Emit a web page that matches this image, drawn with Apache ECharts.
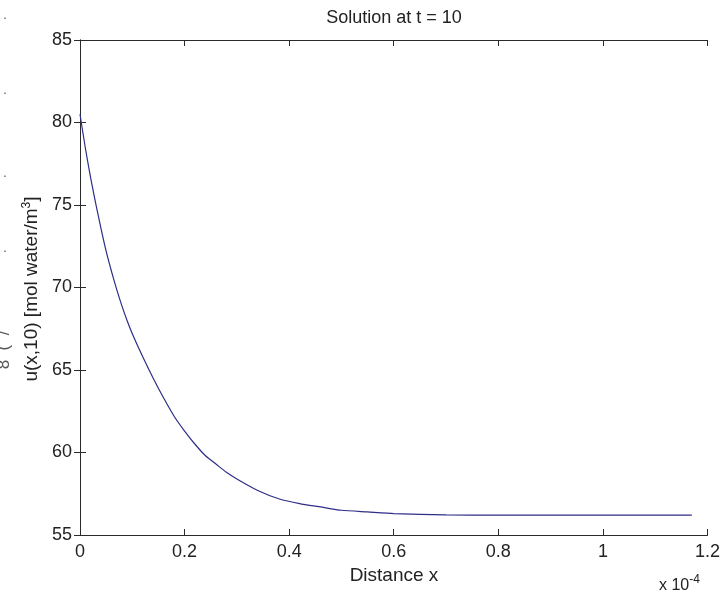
<!DOCTYPE html>
<html>
<head>
<meta charset="utf-8">
<script src="https://cdn.jsdelivr.net/npm/echarts@6/dist/echarts.min.js"></script>
<style>
html,body{margin:0;padding:0;background:#fff;}
#chart{width:723px;height:597px;}
</style>
</head>
<body>
<div id="chart"></div>
<script>
// distance x, in units of 1e-4
var distanceX = [0, 0.01, 0.02, 0.03, 0.04, 0.05, 0.06, 0.07, 0.08, 0.09, 0.10, 0.12, 0.14, 0.16, 0.18, 0.20, 0.22, 0.24, 0.26, 0.28, 0.30, 0.34, 0.38, 0.42, 0.46, 0.50, 0.55, 0.60, 0.70, 0.80, 0.90, 1.00, 1.10, 1.17];
// u(x,10) [mol water/m^3]
var uValues = [80.5, 78.5, 76.7, 75.1, 73.6, 72.2, 71.0, 69.9, 68.9, 68.0, 67.2, 65.8, 64.5, 63.3, 62.2, 61.3, 60.5, 59.8, 59.3, 58.8, 58.4, 57.7, 57.2, 56.9, 56.7, 56.5, 56.4, 56.3, 56.22, 56.2, 56.2, 56.2, 56.2, 56.2];
var xTicks = ["0", "0.2", "0.4", "0.6", "0.8", "1", "1.2"];
var yTicks = ["55", "60", "65", "70", "75", "80", "85"];
var titleText = "Solution at t = 10";
var xLabel = "Distance x";

var chart = echarts.init(document.getElementById('chart'));
var FONT = 'Liberation Sans, Arial, sans-serif';
var TXT = '#222';
var AX = '#2a2a2a';

var pts = distanceX.map(function (x, i) { return [x, uValues[i]]; });

function xFmt(v) {
  var idx = Math.round(v / 0.2);
  return xTicks[idx] !== undefined ? xTicks[idx] : '';
}
function yFmt(v) {
  var idx = Math.round((v - 55) / 5);
  return yTicks[idx] !== undefined ? yTicks[idx] : '';
}

var baseAxisLine = { show: true, lineStyle: { color: AX, width: 1 } };
var baseTick = { show: true, inside: true, length: 6, lineStyle: { color: AX, width: 1 } };

var strayMarks = [
  { t: '.', y: 15 }, { t: '.', y: 90 }, { t: '.', y: 173 }, { t: '.', y: 248 }
];
var graphics = [
  {
    type: 'text', x: 394, y: 18,
    style: { text: titleText, fontFamily: FONT, fontSize: 18, fill: TXT, align: 'center', verticalAlign: 'middle' }
  },
  {
    type: 'text', x: 394, y: 576,
    style: { text: xLabel, fontFamily: FONT, fontSize: 19, fill: TXT, align: 'center', verticalAlign: 'middle' }
  },
  {
    type: 'text', x: 659, y: 586,
    style: {
      text: 'x 10{sup|-4}', fontFamily: FONT, fontSize: 16, fill: TXT, align: 'left', verticalAlign: 'middle',
      rich: { sup: { fontSize: 12, fontFamily: FONT, fill: TXT, padding: [0, 0, 13, 0] } }
    }
  },
  {
    type: 'text', x: 32, y: 289, rotation: Math.PI / 2,
    style: {
      text: 'u(x,10) [mol water/m{sup|3}]', fontFamily: FONT, fontSize: 19, fill: TXT,
      align: 'center', verticalAlign: 'middle',
      rich: { sup: { fontSize: 12, fontFamily: FONT, fill: TXT, padding: [0, 0, 11, 0] } }
    }
  }
];
strayMarks.forEach(function (m) {
  graphics.push({ type: 'text', x: 5, y: m.y, style: { text: m.t, fontFamily: FONT, fontSize: 14, fill: '#666', align: 'center', verticalAlign: 'middle' } });
});
graphics.push({ type: 'text', x: 4, y: 350, rotation: Math.PI / 2,
  style: { text: '8  (  /', fontFamily: FONT, fontSize: 17, fill: '#555', align: 'center', verticalAlign: 'middle' } });

chart.setOption({
  backgroundColor: '#fff',
  animation: false,
  grid: { left: 80, right: 15, top: 40, bottom: 62, containLabel: false },
  xAxis: [
    {
      type: 'value', min: 0, max: 1.2, interval: 0.2, position: 'bottom',
      axisLine: baseAxisLine, axisTick: baseTick, splitLine: { show: false },
      axisLabel: { formatter: xFmt, fontFamily: FONT, fontSize: 18, color: TXT, margin: 8 }
    },
    {
      type: 'value', min: 0, max: 1.2, interval: 0.2, position: 'top',
      axisLine: baseAxisLine, axisTick: baseTick, splitLine: { show: false },
      axisLabel: { show: false }
    }
  ],
  yAxis: [
    {
      type: 'value', min: 55, max: 85, interval: 5, position: 'left',
      axisLine: baseAxisLine, axisTick: baseTick, splitLine: { show: false },
      axisLabel: { formatter: yFmt, fontFamily: FONT, fontSize: 18, color: TXT, margin: 8 }
    },
    {
      type: 'value', min: 55, max: 85, interval: 5, position: 'right',
      axisLine: baseAxisLine, axisTick: baseTick, splitLine: { show: false },
      axisLabel: { show: false }
    }
  ],
  series: [{
    type: 'line', xAxisIndex: 0, yAxisIndex: 0, data: pts,
    showSymbol: false, smooth: 0.2,
    lineStyle: { color: '#2e2e88', width: 1.2 }
  }],
  graphic: graphics
});
</script>
</body>
</html>
